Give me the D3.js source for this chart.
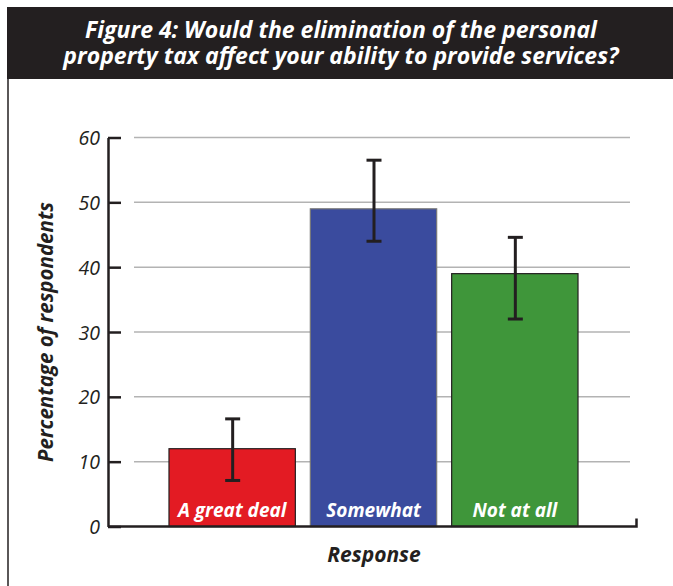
<!DOCTYPE html>
<html>
<head>
<meta charset="utf-8">
<script src="https://cdn.jsdelivr.net/npm/d3@7"></script>
<style>
  body { margin: 0; background: #fff; }
  svg { display: block; font-family: "Open Sans", sans-serif; }
</style>
</head>
<body>
<svg id="chart" width="673" height="586"></svg>
<script>
// survey answers and their percentages
const categories = ['A great deal', 'Somewhat', 'Not at all'];
const values = [12, 49, 39];
const errLow = [7.1, 44, 32];
const errHigh = [16.6, 56.5, 44.6];
const colors = ['#e31b23', '#3a4b9e', '#3f963a'];
const yTicks = [0, 10, 20, 30, 40, 50, 60];
const titleLines = ['Figure 4: Would the elimination of the personal',
    'property tax affect your ability to provide services?'];

const ink = '#231f20';
const svg = d3.select('#chart');

// title band
svg.append('rect')
    .attr('x', 7).attr('y', 7)
    .attr('width', 666).attr('height', 72)
    .attr('fill', ink);

svg.append('g')
    .selectAll('text')
    .data(titleLines)
    .join('text')
    .attr('fill', '#fff')
    .attr('font-weight', 700)
    .attr('font-style', 'italic')
    .attr('font-size', 23)
    .attr('text-anchor', 'middle')
    .attr('x', 341)
    .attr('y', function(d, i) { return 38 + i * 26; })
    .text(function(d) { return d; });

// frame line on the left
svg.append('line')
    .attr('x1', 8).attr('x2', 8)
    .attr('y1', 79).attr('y2', 586)
    .attr('stroke', ink).attr('stroke-width', 1.5);

const y = d3.scaleLinear()
    .domain([0, 60])
    .range([526.5, 137.5]);

const x = d3.scaleBand()
    .domain(categories)
    .range([161.5, 585.5])
    .paddingInner(0.106)
    .paddingOuter(0.053);

// grid
svg.append('g')
    .selectAll('line')
    .data(yTicks.filter(function(d) { return d > 0; }))
    .join('line')
    .attr('x1', 134).attr('x2', 630)
    .attr('y1', function(d) { return y(d); })
    .attr('y2', function(d) { return y(d); })
    .attr('stroke', '#b3b3b3')
    .attr('stroke-width', 1.5);

// y axis, ticks pointing inwards
const yAxis = svg.append('g')
    .attr('transform', 'translate(108,0)')
    .call(d3.axisLeft(y).tickValues(yTicks).tickSize(-13).tickSizeOuter(0).tickPadding(8));

yAxis.select('.domain').attr('stroke', ink).attr('stroke-width', 2.5);
yAxis.selectAll('.tick line').attr('stroke', ink).attr('stroke-width', 2.5);
yAxis.selectAll('.tick text')
    .attr('fill', ink)
    .attr('font-family', '"Open Sans", sans-serif')
    .attr('font-style', 'italic')
    .attr('font-size', 19.5)
    .attr('dy', '0.36em');

// bars
svg.append('g')
    .selectAll('rect')
    .data(categories)
    .join('rect')
    .attr('x', function(d) { return x(d); })
    .attr('y', function(d, i) { return y(values[i]); })
    .attr('width', x.bandwidth())
    .attr('height', function(d, i) { return y(0) - y(values[i]); })
    .attr('fill', function(d, i) { return colors[i]; })
    .attr('stroke', function(d, i) { return i === 1 ? '#777' : ink; })
    .attr('stroke-width', 1.2);

// labels inside bars
svg.append('g')
    .selectAll('text')
    .data(categories)
    .join('text')
    .attr('x', function(d) { return x(d) + x.bandwidth() / 2; })
    .attr('y', 517)
    .attr('text-anchor', 'middle')
    .attr('fill', '#fff')
    .attr('font-weight', 700)
    .attr('font-style', 'italic')
    .attr('font-size', 19)
    .text(function(d) { return d; });

// error bars
const err = svg.append('g')
    .attr('stroke', ink)
    .attr('stroke-width', 3);

categories.forEach(function(c, i) {
    const cx = x(c) + x.bandwidth() / 2 + 0.5;
    err.append('line')
        .attr('x1', cx).attr('x2', cx)
        .attr('y1', y(errLow[i])).attr('y2', y(errHigh[i]));
    [errLow[i], errHigh[i]].forEach(function(v) {
        err.append('line')
            .attr('x1', cx - 7.5).attr('x2', cx + 7.5)
            .attr('y1', y(v)).attr('y2', y(v));
    });
});

// x baseline with small end tick
svg.append('path')
    .attr('d', d3.line()([[108, y(0)], [636.5, y(0)], [636.5, y(0) - 8]]))
    .attr('fill', 'none')
    .attr('stroke', ink)
    .attr('stroke-width', 2.5);

// axis titles
svg.append('text')
    .attr('x', 374).attr('y', 562)
    .attr('text-anchor', 'middle')
    .attr('fill', ink)
    .attr('font-weight', 700)
    .attr('font-style', 'italic')
    .attr('font-size', 21)
    .text('Response');

svg.append('text')
    .attr('transform', 'translate(53,332) rotate(-90)')
    .attr('text-anchor', 'middle')
    .attr('fill', ink)
    .attr('font-weight', 700)
    .attr('font-style', 'italic')
    .attr('font-size', 20.5)
    .text('Percentage of respondents');
</script>
</body>
</html>
